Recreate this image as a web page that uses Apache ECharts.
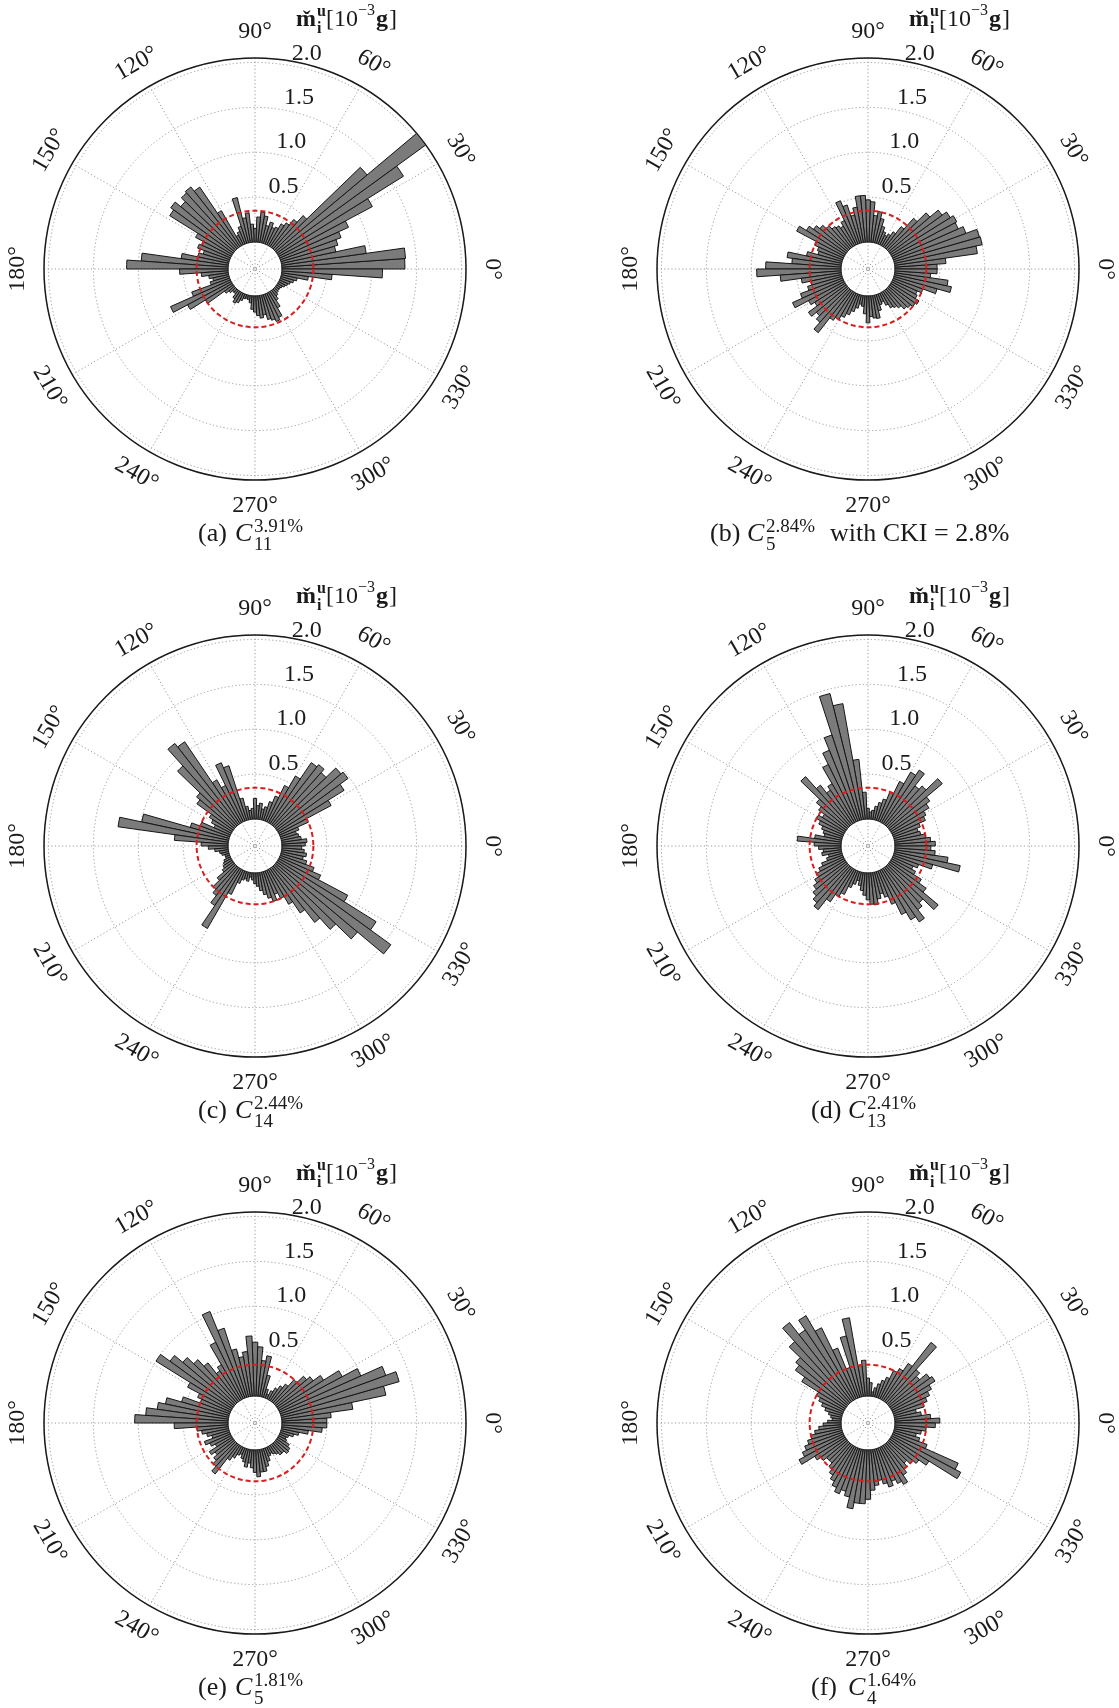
<!DOCTYPE html>
<html>
<head>
<meta charset="utf-8">
<title>Polar histograms</title>
<script src="https://cdn.jsdelivr.net/npm/echarts@6/dist/echarts.min.js"></script>
<style>
  html, body { margin: 0; padding: 0; background: #fff; }
  #main { width: 1119px; height: 1708px; }
</style>
</head>
<body>
<div id="main"></div>
<script>
// bins of 4 degrees, counter-clockwise from east
const binWidth = 4;
const binStarts = Array.from({ length: 360 / binWidth }, (_, i) => i * binWidth);

const angleTicks = [0, 30, 60, 90, 120, 150, 180, 210, 240, 270, 300, 330];
const radiusTicks = [0.5, 1.0, 1.5, 2.0];
const rMin = -0.3;
const rMax = 2.05;
const redCircle = 0.35;

// bar lengths per bin [10^-3 g]
const valuesA = [
  1.37, 1.38, 0.95, 0.62, 0.66, 0.72, 0.84, 1.18, 1.65, 2.08,
  1.33, 0.50, 0.40, 0.32, 0.28, 0.22, 0.20, 0.25, 0.20, 0.30,
  0.34, 0.28, 0.15, 0.20, 0.33, 0.28, 0.52, 0.20, 0.15, 0.12,
  0.45, 0.80, 0.86, 0.84, 0.78, 0.86, 0.82, 0.45, 0.35, 0.38,
  0.30, 0.35, 0.53, 0.97, 1.13, 0.54, 0.30, 0.22, 0.18, 0.22,
  0.45, 0.73, 0.55, 0.35, 0.12, 0.08, 0.05, 0.05, 0.10, 0.14,
  0.12, 0.08, 0.05, 0.04, 0.05, 0.08, 0.15, 0.18, 0.22, 0.25,
  0.22, 0.28, 0.30, 0.33, 0.30, 0.20, 0.12, 0.08, 0.06, 0.05,
  0.05, 0.06, 0.08, 0.10, 0.12, 0.15, 0.18, 0.30, 0.56, 1.12
];
const valuesB = [
  0.47, 0.57, 0.93, 1.00, 0.99, 0.86, 0.80, 0.82, 0.78, 0.72,
  0.60, 0.46, 0.30, 0.20, 0.15, 0.12, 0.15, 0.20, 0.28, 0.35,
  0.30, 0.45, 0.47, 0.52, 0.52, 0.40, 0.32, 0.45, 0.52, 0.30,
  0.25, 0.28, 0.30, 0.35, 0.40, 0.45, 0.51, 0.60, 0.35, 0.30,
  0.28, 0.40, 0.61, 0.55, 0.84, 0.94, 0.68, 0.45, 0.35, 0.40,
  0.50, 0.62, 0.45, 0.40, 0.52, 0.45, 0.50, 0.60, 0.39, 0.35,
  0.30, 0.25, 0.20, 0.15, 0.10, 0.12, 0.20, 0.30, 0.23, 0.25,
  0.26, 0.18, 0.12, 0.10, 0.15, 0.20, 0.22, 0.25, 0.30, 0.32,
  0.35, 0.37, 0.32, 0.30, 0.35, 0.50, 0.65, 0.60, 0.40, 0.47
];
const valuesC = [
  0.26, 0.28, 0.22, 0.20, 0.18, 0.22, 0.35, 0.66, 0.87, 0.98,
  0.95, 0.80, 0.85, 0.82, 0.60, 0.45, 0.30, 0.22, 0.15, 0.12,
  0.18, 0.15, 0.23, 0.12, 0.10, 0.15, 0.25, 0.64, 0.70, 0.45,
  0.55, 1.10, 1.15, 0.90, 0.55, 0.50, 0.30, 0.25, 0.20, 0.35,
  0.45, 0.99, 1.24, 0.60, 0.30, 0.22, 0.15, 0.10, 0.08, 0.05,
  0.05, 0.08, 0.10, 0.12, 0.15, 0.25, 0.35, 0.40, 0.50, 0.76,
  0.30, 0.15, 0.10, 0.08, 0.10, 0.05, 0.08, 0.12, 0.15, 0.20,
  0.25, 0.30, 0.35, 0.28, 0.35, 0.45, 0.60, 0.78, 0.95, 1.19,
  1.57, 1.29, 0.87, 0.50, 0.40, 0.30, 0.25, 0.28, 0.25, 0.22
];
const valuesD = [
  0.45, 0.40, 0.35, 0.30, 0.28, 0.32, 0.40, 0.43, 0.50, 0.55,
  0.78, 0.60, 0.55, 0.72, 0.65, 0.50, 0.35, 0.25, 0.20, 0.15,
  0.10, 0.08, 0.12, 0.30, 0.67, 1.31, 1.45, 1.00, 0.85, 0.71,
  0.50, 0.45, 0.56, 0.74, 0.45, 0.38, 0.30, 0.35, 0.30, 0.25,
  0.22, 0.20, 0.30, 0.49, 0.30, 0.25, 0.20, 0.22, 0.15, 0.18,
  0.25, 0.30, 0.35, 0.40, 0.45, 0.50, 0.55, 0.60, 0.45, 0.35,
  0.30, 0.20, 0.15, 0.10, 0.15, 0.20, 0.25, 0.30, 0.35, 0.36,
  0.30, 0.25, 0.30, 0.40, 0.55, 0.65, 0.72, 0.60, 0.55, 0.72,
  0.50, 0.40, 0.30, 0.25, 0.30, 0.45, 0.75, 0.60, 0.45, 0.40
];
const valuesE = [
  0.50, 0.55, 0.80, 1.19, 1.37, 1.25, 0.99, 0.80, 0.60, 0.50,
  0.45, 0.35, 0.25, 0.20, 0.15, 0.10, 0.05, 0.10, 0.25, 0.46,
  0.40, 0.55, 0.60, 0.67, 0.50, 0.45, 0.55, 0.81, 1.04, 0.70,
  0.45, 0.40, 0.55, 0.65, 0.75, 0.87, 1.00, 0.55, 0.40, 0.35,
  0.55, 0.72, 0.80, 0.92, 1.04, 0.60, 0.35, 0.30, 0.25, 0.20,
  0.30, 0.25, 0.20, 0.30, 0.25, 0.30, 0.35, 0.42, 0.20, 0.15,
  0.10, 0.08, 0.12, 0.15, 0.20, 0.15, 0.20, 0.25, 0.30, 0.25,
  0.25, 0.20, 0.15, 0.10, 0.08, 0.10, 0.12, 0.15, 0.15, 0.19,
  0.18, 0.15, 0.10, 0.08, 0.10, 0.15, 0.20, 0.30, 0.45, 0.50
];
const valuesF = [
  0.50, 0.40, 0.30, 0.25, 0.35, 0.40, 0.45, 0.50, 0.58, 0.55,
  0.45, 0.50, 0.84, 0.50, 0.40, 0.35, 0.25, 0.20, 0.15, 0.10,
  0.05, 0.15, 0.20, 0.40, 0.35, 0.89, 0.70, 0.35, 0.60, 0.88,
  1.08, 0.95, 1.12, 0.92, 0.75, 0.70, 0.57, 0.35, 0.30, 0.25,
  0.20, 0.15, 0.12, 0.10, 0.15, 0.20, 0.25, 0.30, 0.35, 0.40,
  0.45, 0.50, 0.57, 0.40, 0.35, 0.30, 0.30, 0.35, 0.40, 0.45,
  0.50, 0.55, 0.50, 0.55, 0.67, 0.60, 0.60, 0.55, 0.45, 0.40,
  0.35, 0.40, 0.45, 0.40, 0.45, 0.49, 0.40, 0.35, 0.30, 0.35,
  0.40, 0.50, 0.87, 0.80, 0.40, 0.30, 0.25, 0.30, 0.35, 0.45
];

const panels = [
  { tag: '(a)', sup: '3.91%', sub: '11', extra: '', values: valuesA },
  { tag: '(b)', sup: '2.84%', sub: '5', extra: 'with CKI = 2.8%', values: valuesB },
  { tag: '(c)', sup: '2.44%', sub: '14', extra: '', values: valuesC },
  { tag: '(d)', sup: '2.41%', sub: '13', extra: '', values: valuesD },
  { tag: '(e)', sup: '1.81%', sub: '5', extra: '', values: valuesE },
  { tag: '(f)', sup: '1.64%', sub: '4', extra: '', values: valuesF }
];

// layout
const colX = [255, 868];
const rowY = [269, 846, 1423];
const outerR = 211;
const labelR = 2.34;   // angle labels sit just outside the frame
const rLabelAngle = 80;
const serif = 'Liberation Serif';

const polar = [], angleAxis = [], radiusAxis = [], series = [], graphic = [];
const gridLine = { color: '#9a9a9a', width: 1, type: [1.2, 2.4] };

panels.forEach((p, k) => {
  const cx = colX[k % 2], cy = rowY[Math.floor(k / 2)];
  const center = [cx, cy];

  // polar used by the bars
  const bi = polar.length;
  polar.push({ center, radius: [0, outerR] });
  angleAxis.push({
    polarIndex: bi, type: 'category', data: binStarts, startAngle: 0, clockwise: false,
    axisLine: { show: false }, axisTick: { show: false }, axisLabel: { show: false }, splitLine: { show: false }
  });
  radiusAxis.push({
    polarIndex: bi, type: 'value', min: rMin, max: rMax,
    axisLine: { show: false }, axisTick: { show: false }, axisLabel: { show: false }, splitLine: { show: false }
  });

  // polar used for grid, frame and labels
  const gi = polar.length;
  polar.push({ center, radius: [0, outerR] });
  angleAxis.push({
    polarIndex: gi, type: 'value', min: 0, max: 360, interval: 30, startAngle: 0, clockwise: false,
    axisLine: { lineStyle: { color: '#1a1a1a', width: 1.5 } },
    axisTick: { show: false }, axisLabel: { show: false },
    splitLine: { lineStyle: gridLine }
  });
  radiusAxis.push({
    polarIndex: gi, type: 'value', min: rMin, max: rMax, splitNumber: 5,
    axisLine: { show: false }, axisTick: { show: false }, axisLabel: { show: false },
    splitLine: { lineStyle: gridLine }
  });

  series.push({
    type: 'bar', coordinateSystem: 'polar', polarIndex: bi,
    data: p.values, barCategoryGap: '0%', barGap: '0%', silent: true, z: 3,
    itemStyle: { color: '#7b7b7b', borderColor: '#151515', borderWidth: 1 }
  });

  series.push({
    type: 'custom', coordinateSystem: 'polar', polarIndex: gi, silent: true, z: 5,
    data: [[redCircle, 0]],
    renderItem: (params, api) => {
      const c = api.coord([rMin, 0]);
      const pt = api.coord([api.value(0), 0]);
      return {
        type: 'circle',
        shape: { cx: c[0], cy: c[1], r: Math.hypot(pt[0] - c[0], pt[1] - c[1]) },
        style: { fill: 'none', stroke: '#d81e1e', lineWidth: 2, lineDash: [5, 3] }
      };
    }
  });

  series.push({
    type: 'custom', coordinateSystem: 'polar', polarIndex: gi, silent: true, z: 6,
    data: angleTicks.map(a => [labelR, a]),
    renderItem: (params, api) => {
      const a = api.value(1);
      const pt = api.coord([api.value(0), a]);
      let rot = a - 90;
      if (rot > 90) rot -= 180;
      return {
        type: 'text', x: pt[0], y: pt[1], rotation: rot * Math.PI / 180,
        style: { text: a + '°', fill: '#1a1a1a', font: '24px ' + serif, align: 'center', verticalAlign: 'middle' }
      };
    }
  });

  series.push({
    type: 'custom', coordinateSystem: 'polar', polarIndex: gi, silent: true, z: 6,
    data: radiusTicks.map(v => [v, rLabelAngle]),
    renderItem: (params, api) => {
      const pt = api.coord([api.value(0), api.value(1)]);
      return {
        type: 'text', x: pt[0] + 1, y: pt[1],
        style: { text: api.value(0).toFixed(1), fill: '#1a1a1a', font: '24px ' + serif, align: 'left', verticalAlign: 'bottom' }
      };
    }
  });

  // unit label above each panel
  const t = (text, x, y, font) => ({
    type: 'text', x, y, silent: true,
    style: { text, fill: '#1a1a1a', font: font + ' ' + serif, align: 'left', verticalAlign: 'middle' }
  });
  const unit = [
    t('m\u030C', 41, -249, 'bold 24px'),
    t('u', 62, -257, 'bold 16px'),
    t('i', 62, -240, 'bold 16px'),
    t('[10', 71, -249, '24px'),
    t('\u22123', 103, -258, '16px'),
    t('g', 121, -249, 'bold 24px'),
    t(']', 134, -249, '24px')
  ];

  // caption under each panel
  const x0 = p.extra ? -158 : -57;
  const cap = [
    t(p.tag, x0, 265, '26px'),
    t('C', x0 + 37, 265, 'italic 26px'),
    t(p.sup, x0 + 56, 258, '19px'),
    t(p.sub, x0 + 56, 276, '19px')
  ];
  if (p.extra) cap.push(t(p.extra, x0 + 120, 265, '26px'));

  graphic.push({ type: 'group', x: cx, y: cy, children: unit.concat(cap) });
});

const chart = echarts.init(document.getElementById('main'), null, { renderer: 'canvas' });
chart.setOption({
  backgroundColor: '#ffffff',
  animation: false,
  polar, angleAxis, radiusAxis, series, graphic
});
</script>
</body>
</html>
